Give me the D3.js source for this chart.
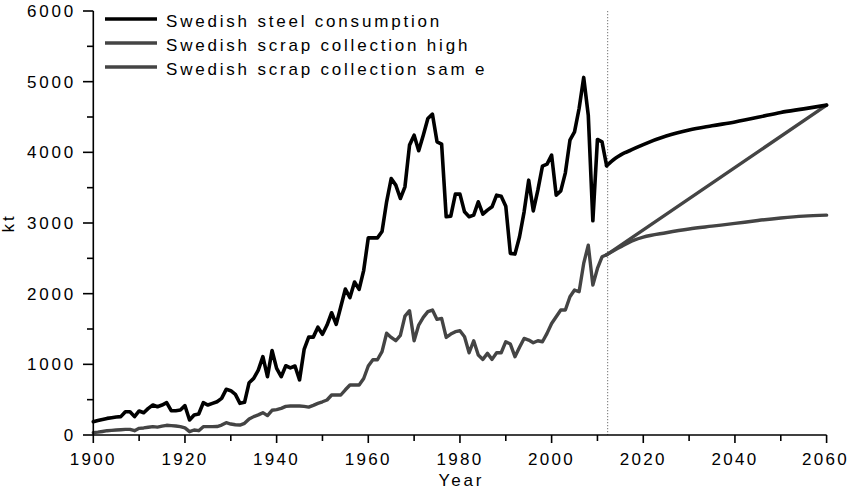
<!DOCTYPE html>
<html>
<head>
<meta charset="utf-8">
<script src="https://cdn.jsdelivr.net/npm/d3@7"></script>
<style>
  html, body { margin: 0; padding: 0; background: #fff; }
  svg { display: block; }
  text { font-family: "Liberation Sans", Arial, sans-serif; fill: #000; }
</style>
</head>
<body>
<svg id="chart" width="850" height="493"></svg>
<script>
// ---- data ----
const histStartYear = 1900;
const steelHist = [188,205,220,235,245,255,260,330,330,260,
  340,315,377,424,400,424,457,344,344,353,
  415,212,283,297,457,424,448,471,518,646,
  627,575,448,462,740,801,919,1108,825,1195,
  943,825,980,950,976,780,1210,1385,1385,1525,
  1425,1556,1730,1565,1815,2065,1945,2165,2060,2330,
  2790,2790,2790,2880,3300,3630,3536,3347,3512,4102,
  4243,4022,4243,4479,4540,4149,4116,3088,3097,3409,
  3409,3158,3088,3111,3300,3126,3182,3229,3394,3380,
  3238,2570,2560,2806,3158,3606,3172,3465,3805,3833,
  3960,3394,3455,3710,4172,4290,4620,5060,4526,3031,
  4182,4149,3810];
const scrapHist = [33,40,50,61,65,70,75,80,80,61,
  94,100,110,118,112,125,137,132,127,118,
  100,47,71,61,118,118,118,120,140,174,
  155,145,141,165,225,260,285,316,275,350,
  360,377,405,410,410,410,405,395,420,448,
  470,495,566,566,566,640,707,707,707,800,
  976,1065,1065,1179,1440,1381,1334,1410,1683,1759,
  1334,1556,1664,1745,1768,1636,1650,1381,1428,1462,
  1475,1391,1164,1334,1131,1070,1155,1070,1164,1164,
  1320,1287,1108,1240,1367,1344,1306,1334,1320,1438,
  1579,1674,1768,1768,1957,2051,2027,2428,2687,2121,
  2357,2522,2550];

const steelFutYears = [2012,2013,2014,2015,2016,2017,2020,2025,2030,2035,2040,2045,2050,2055,2060];
const steelFut      = [3810,3870,3920,3960,3995,4022,4110,4230,4315,4375,4430,4495,4565,4615,4668];

const highFutYears  = [2012,2060];
const highFut       = [2550,4668];

const sameFutYears  = [2012,2015,2018,2020,2025,2030,2035,2040,2045,2050,2055,2060];
const sameFut       = [2550,2660,2758,2800,2862,2915,2955,2994,3035,3070,3097,3111];

const forecastStart = 2012;
const xTicks = [1900,1920,1940,1960,1980,2000,2020,2040,2060];
const yTicks = [0,1000,2000,3000,4000,5000,6000];
const legendLabels = ["Swedish steel consumption","Swedish scrap collection high","Swedish scrap collection sam e"];

// ---- layout ----
const svg = d3.select("#chart");
const x = d3.scaleLinear().domain([1900, 2060]).range([93.3, 826.6]);
const y = d3.scaleLinear().domain([0, 6000]).range([435, 11]);

const BLACK = "#000000", GREY = "#444444";
const fontSize = 17, spacing = 2.8, tickSpacing = 2.3;

const histYears = steelHist.map((_, i) => histStartYear + i);
const toPts = (ys, vs) => ys.map((yr, i) => [yr, vs[i]]);

const line = d3.line().x(d => x(d[0])).y(d => y(d[1]));

// forecast divider (dotted)
svg.append("line")
  .attr("x1", x(forecastStart) + 1).attr("x2", x(forecastStart) + 1)
  .attr("y1", y(6000)).attr("y2", y(0))
  .attr("stroke", "#8a8a8a").attr("stroke-width", 1.2)
  .attr("stroke-dasharray", "1.2,1.8");

// series
const gLines = svg.append("g").attr("fill", "none").attr("stroke-linejoin", "round").attr("stroke-linecap", "round");
gLines.append("path").attr("d", line(toPts(histYears, scrapHist))).attr("stroke", GREY).attr("stroke-width", 3.4);
gLines.append("path").attr("d", line(toPts(highFutYears, highFut))).attr("stroke", GREY).attr("stroke-width", 3.4);
gLines.append("path").attr("d", line.curve(d3.curveMonotoneX)(toPts(sameFutYears, sameFut))).attr("stroke", GREY).attr("stroke-width", 3.4);
line.curve(d3.curveLinear);
gLines.append("path").attr("d", line(toPts(histYears, steelHist))).attr("stroke", BLACK).attr("stroke-width", 3.6);
gLines.append("path").attr("d", line.curve(d3.curveMonotoneX)(toPts(steelFutYears, steelFut))).attr("stroke", BLACK).attr("stroke-width", 3.6);

// axes
const axisColor = "#000";
// x axis
const xAxis = svg.append("g");
xAxis.append("line").attr("x1", x(1900)).attr("x2", x(2060)).attr("y1", 435).attr("y2", 435)
  .attr("stroke", axisColor).attr("stroke-width", 1.6);
const xMinor = d3.range(1900, 2061, 10);
xAxis.selectAll(".xt").data(xMinor).join("line")
  .attr("x1", d => x(d)).attr("x2", d => x(d))
  .attr("y1", 435).attr("y2", d => xTicks.includes(d) ? 443 : 441)
  .attr("stroke", axisColor).attr("stroke-width", 1.6);
xAxis.selectAll(".xl").data(xTicks).join("text")
  .attr("x", d => x(d) + (d === 2060 ? -1 : 0)).attr("y", 465)
  .attr("text-anchor", "middle").attr("font-size", fontSize)
  .attr("letter-spacing", tickSpacing)
  .text(d => d);
svg.append("text").attr("x", (x(1900) + x(2060)) / 2 + spacing / 2).attr("y", 486)
  .attr("text-anchor", "middle").attr("font-size", fontSize).attr("letter-spacing", spacing)
  .text("Year");

// y axis
const yAxis = svg.append("g");
yAxis.append("line").attr("x1", 93.3).attr("x2", 93.3).attr("y1", y(0)).attr("y2", y(6000))
  .attr("stroke", axisColor).attr("stroke-width", 1.6);
const yMinor = d3.range(0, 6001, 500);
yAxis.selectAll(".yt").data(yMinor).join("line")
  .attr("x1", d => yTicks.includes(d) ? 83 : 87).attr("x2", 93.3)
  .attr("y1", d => y(d)).attr("y2", d => y(d))
  .attr("stroke", axisColor).attr("stroke-width", 1.6);
yAxis.selectAll(".yl").data(yTicks).join("text")
  .attr("x", 76).attr("y", d => y(d) + 6)
  .attr("text-anchor", "end").attr("font-size", fontSize).attr("letter-spacing", spacing)
  .text(d => d);
svg.append("text")
  .attr("transform", `translate(14, ${(y(0) + y(6000)) / 2}) rotate(-90)`)
  .attr("text-anchor", "middle").attr("font-size", fontSize).attr("letter-spacing", spacing)
  .text("kt");

// legend
const legendColors = [BLACK, GREY, GREY];
const lg = svg.append("g");
legendLabels.forEach((lab, i) => {
  const cy = 19 + i * 24;
  lg.append("line").attr("x1", 105).attr("x2", 157).attr("y1", cy).attr("y2", cy)
    .attr("stroke", legendColors[i]).attr("stroke-width", 3.5);
  lg.append("text").attr("x", 166).attr("y", cy + 7.5)
    .attr("font-size", fontSize).attr("letter-spacing", spacing)
    .text(lab);
});
</script>
</body>
</html>
